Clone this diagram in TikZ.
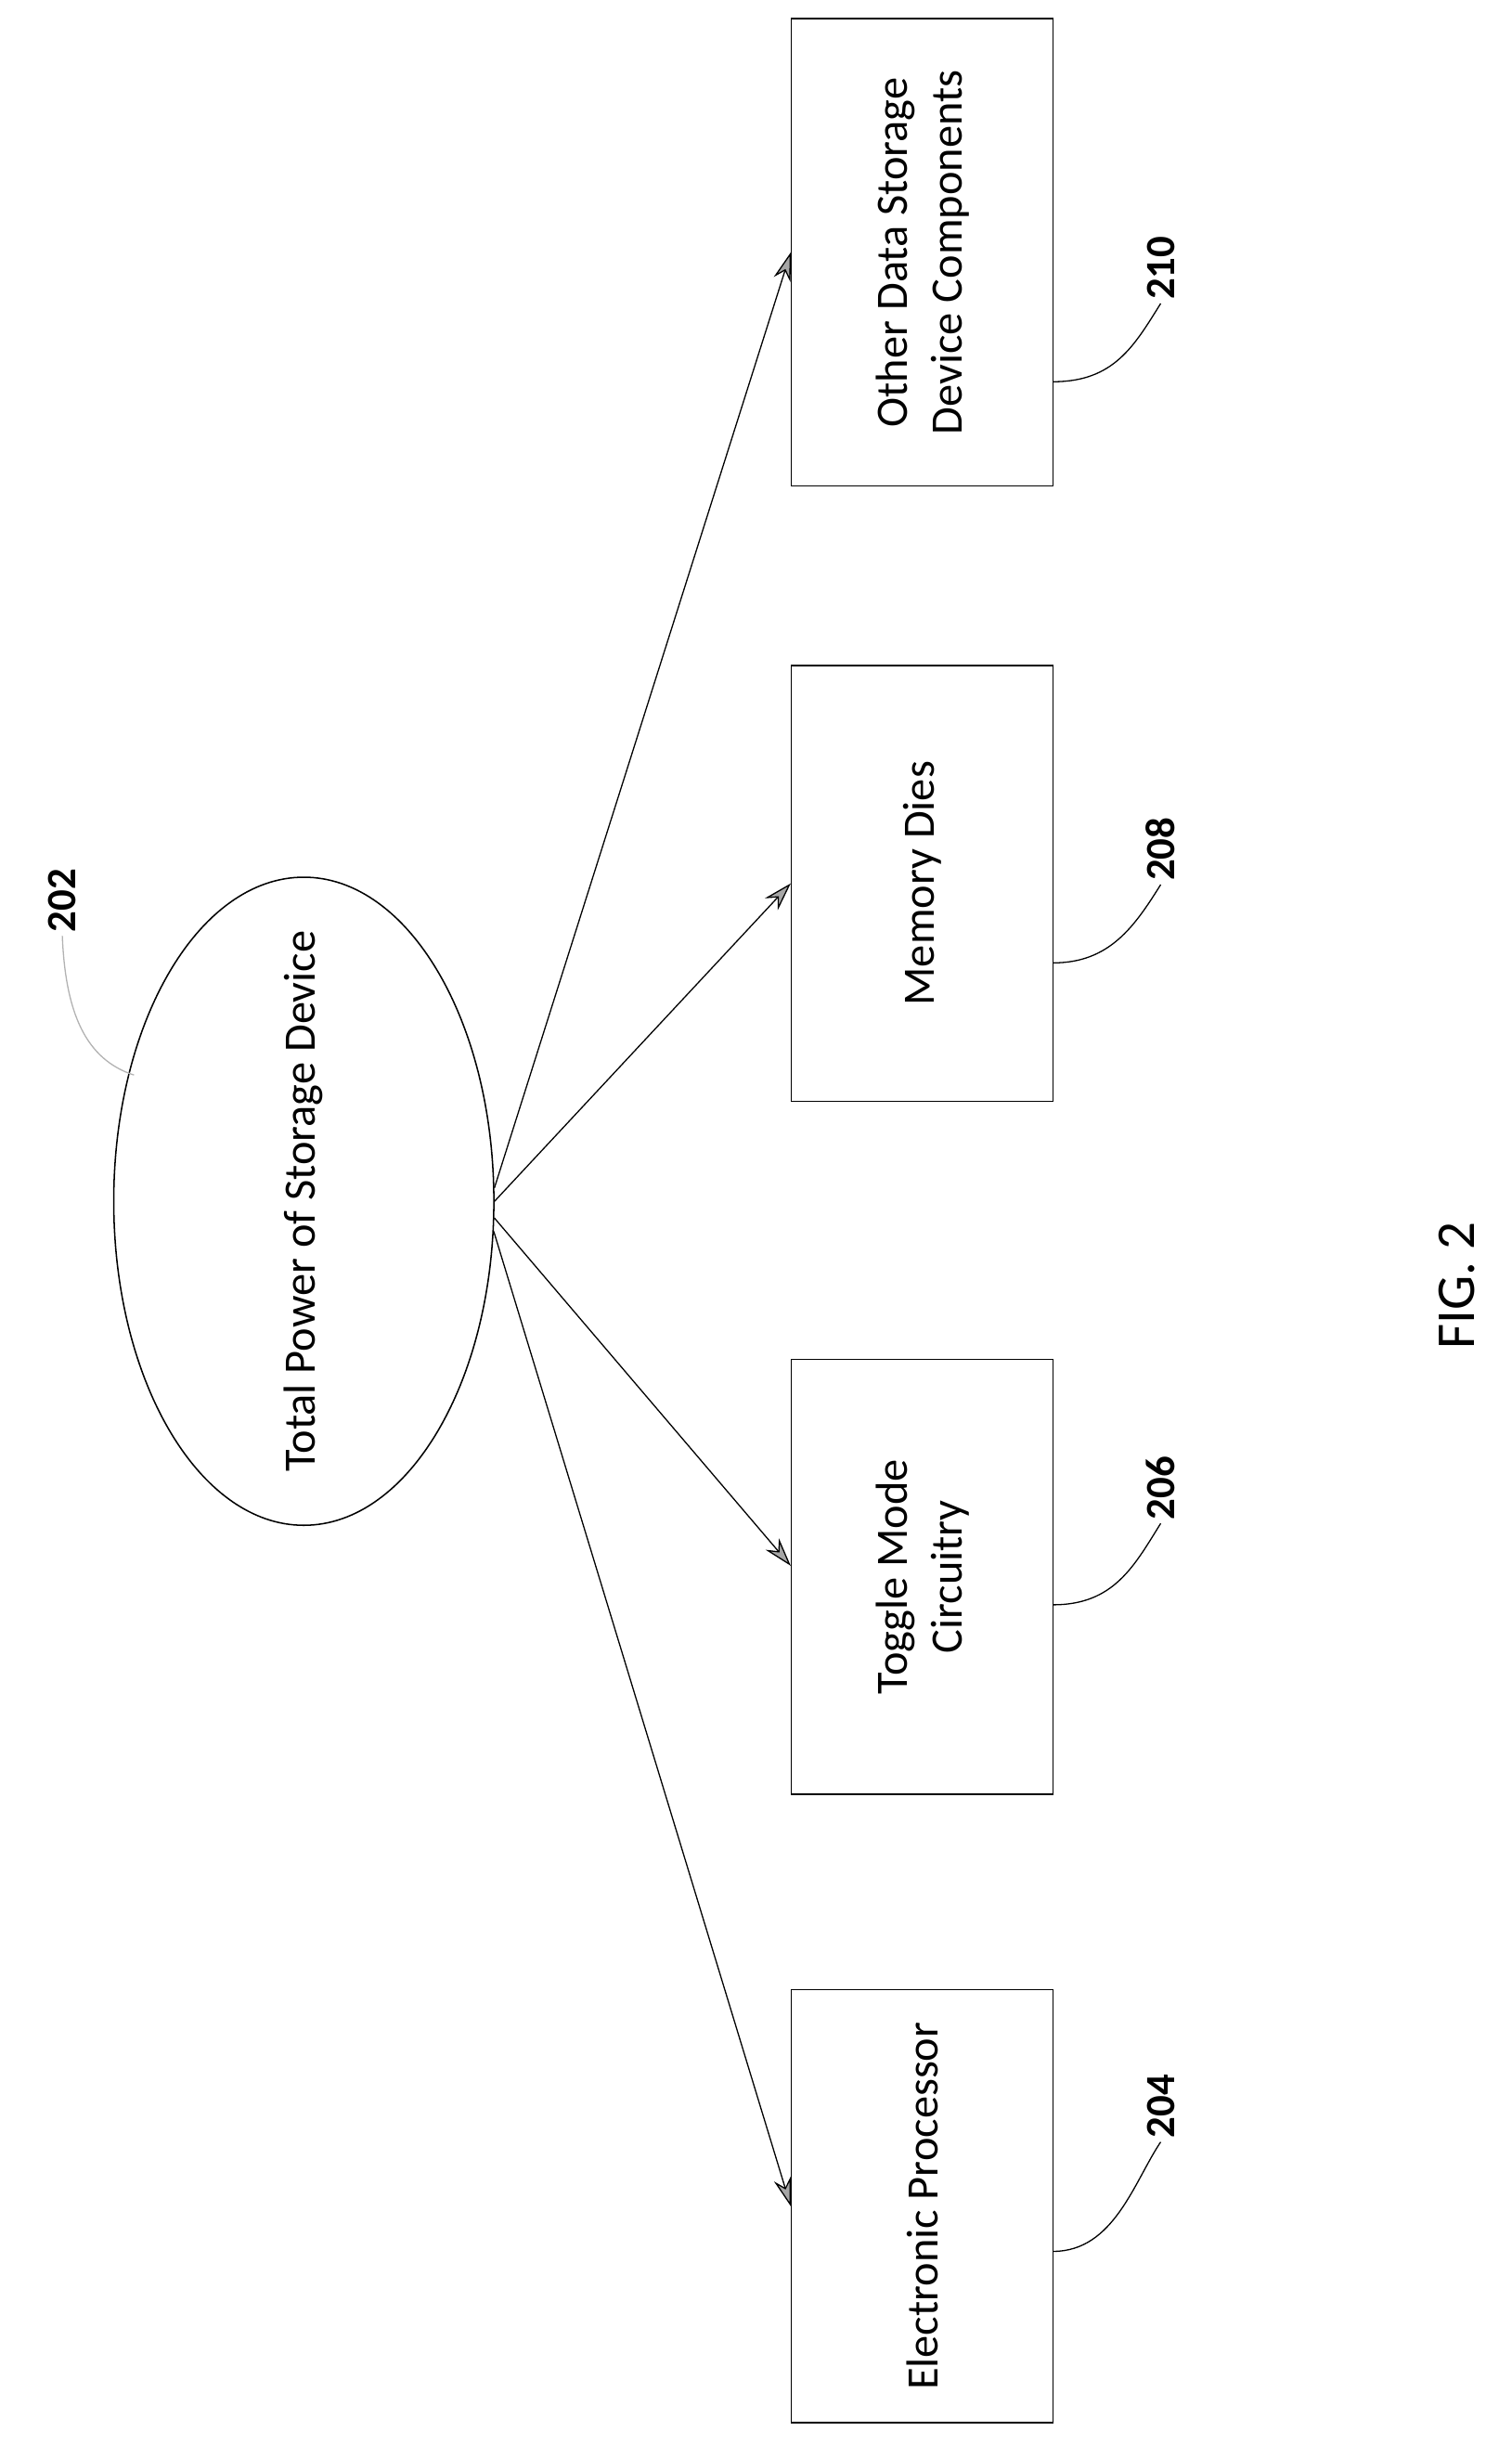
\documentclass[tikz,border=0pt]{standalone}
\usepackage{fontspec}
\setmainfont{Carlito}
\usetikzlibrary{shapes.geometric,arrows.meta}
\tikzset{
  box/.style={draw,line width=1.3pt,minimum width=8.4cm,inner sep=0pt},
  txt/.style={rotate=90,font=\fontsize{41}{50}\selectfont,align=center},
  refnum/.style={rotate=90,font=\fontsize{38}{44}\selectfont\bfseries},
  feed/.style={line width=1.1pt,-{Stealth[length=26pt,width=16pt,fill=gray!70]}},
  lead/.style={line width=1.1pt}
}
\begin{document}
\begin{tikzpicture}[x=0.05cm,y=-0.05cm]
  \useasboundingbox (0,0) rectangle (970,1577);
  % source
  \node[ellipse,draw,line width=1.3pt,minimum width=12.2cm,minimum height=20.8cm] (ell) at (195,771) {};
  \node[txt] at (ell) {Total Power of Storage Device};
  \node[refnum] (l202) at (40,578) {202};
  \coordinate (c202) at (86,690);
  \draw[lead,gray!60] (c202) .. controls (55,680) and (42,650) .. (l202.west);
  % consumers
  \node[box,minimum height=15cm] (b210) at (592,162) {};
  \node[txt] at (b210) {Other Data Storage\\Device Components};
  \node[box,minimum height=14cm] (b208) at (592,567) {};
  \node[txt] at (b208) {Memory Dies};
  \node[box,minimum height=13.95cm] (b206) at (592,1012) {};
  \node[txt] at (b206) {Toggle Mode\\Circuitry};
  \node[box,minimum height=13.9cm] (b204) at (592,1416) {};
  \node[txt] at (b204) {Electronic Processor};
  % reference numerals
  \node[refnum] (l210) at (745,172) {210};
  \node[refnum] (l208) at (745,545) {208};
  \node[refnum] (l206) at (745,955) {206};
  \node[refnum] (l204) at (745,1352) {204};
  \coordinate (c210) at (676,245);
  \coordinate (c208) at (676,618);
  \coordinate (c206) at (676,1030);
  \coordinate (c204) at (676,1445);
  \draw[lead] (c210) .. controls (715,245) and (728,222) .. (l210.west);
  \draw[lead] (c208) .. controls (712,618) and (728,595) .. (l208.west);
  \draw[lead] (c206) .. controls (715,1030) and (728,1005) .. (l206.west);
  \draw[lead] (c204) .. controls (715,1445) and (728,1400) .. (l204.west);
  % power paths
  \draw[feed] (ell.4) -- (b210.west);
  \draw[feed] (ell.0) -- (b208.west);
  \draw[feed] (ell.-5) -- ([yshift=10pt]b206.west);
  \draw[feed] (ell.-9) -- (b204.west);
  \node[rotate=90,font=\fontsize{50}{56}\selectfont] (fig) at (935,825) {FIG. 2};
\end{tikzpicture}
\end{document}
